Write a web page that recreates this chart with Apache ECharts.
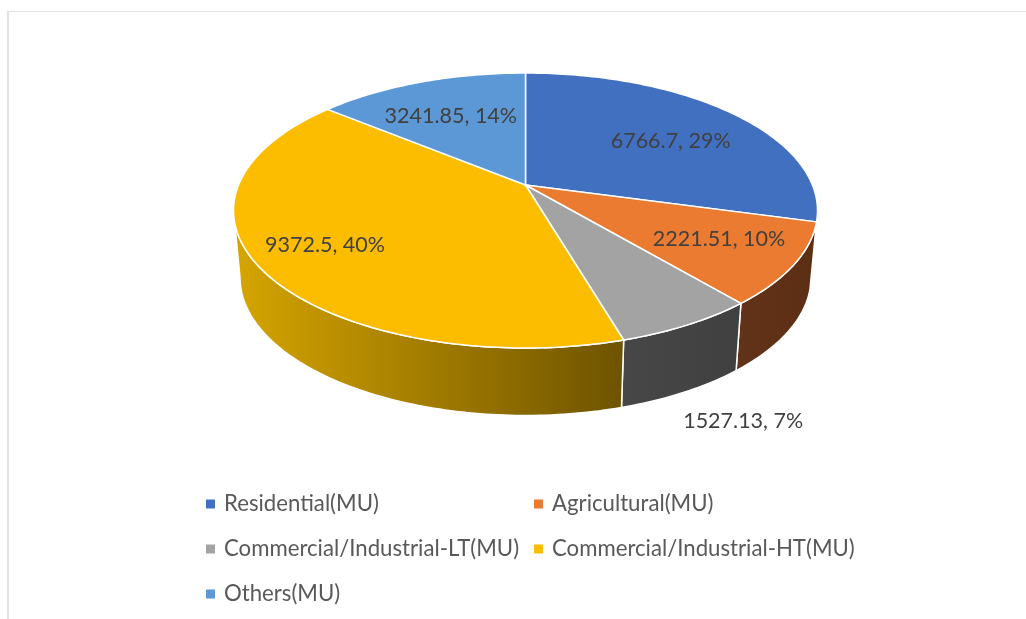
<!DOCTYPE html>
<html>
<head>
<meta charset="utf-8">
<style>
	html, body { margin: 0; padding: 0; background: #fff; }
	#pieChart { width: 1026px; height: 619px; }
</style>
<script src="https://cdn.jsdelivr.net/npm/echarts@6/dist/echarts.min.js"></script>
</head>
<body>
<div id="pieChart"></div>
<script>
// data
var categories = ['Residential(MU)', 'Agricultural(MU)', 'Commercial/Industrial-LT(MU)', 'Commercial/Industrial-HT(MU)', 'Others(MU)'];
var values = [6766.7, 2221.51, 1527.13, 9372.5, 3241.85];
var percentLabels = ['29%', '10%', '7%', '40%', '14%'];

// colours
var topColors = ['#4270c1', '#eb7b30', '#a3a3a3', '#fcbd00', '#5b98d5'];
var wallColors = [
	['#2f5597', '#2f5597'],
	['#623318', '#5c2e13'],
	['#474747', '#404040'],
	['#d6a500', '#6e5300'],
	['#3f6f9c', '#3f6f9c']
];

// layout of the tilted disc: top face, base, and how far the apex sits off the ellipse centre
var topFace = { cx: 525.5, cy: 210.5, rx: 292, ry: 137.5 };
var baseFace = { cx: 525.5, cy: 277.5, rx: 285.5, ry: 138 };
var apexShift = -0.1855;
var labelRadius = 0.65;
var labelOffset = [[7, 5], [25.5, 4], [119, 151], [-33.7, 9], [-3, 1.4]];

var total = 0;
for (var i = 0; i < values.length; i++) {
	total += values[i];
}

// the wall only shows between the two widest points of the ellipse
var wallFrom = Math.acos(apexShift);
var wallTo = Math.PI * 2 - wallFrom;

// angle (clockwise from 12 o'clock) and radius on the disc -> pixel, with perspective
function project(face, angle, r) {
	var u = r * Math.sin(angle);
	var v = -r * Math.cos(angle);
	var d = 1 + v * apexShift;
	var k = Math.sqrt(1 - apexShift * apexShift);
	return [face.cx + face.rx * u * k / d, face.cy + face.ry * (v + apexShift) / d];
}

function arcPoints(face, start, end) {
	var pts = [];
	var n = Math.max(2, Math.ceil((end - start) / (Math.PI / 180)));
	for (var j = 0; j <= n; j++) {
		pts.push(project(face, start + (end - start) * j / n, 1));
	}
	return pts;
}

function renderSlice(index, start, end) {
	var topArc = arcPoints(topFace, start, end);
	var mid = project(topFace, (start + end) / 2, labelRadius);
	var children = [];

	var a = Math.max(start, wallFrom);
	var b = Math.min(end, wallTo);
	if (b > a) {
		children.push({
			type: 'polygon',
			z2: 1,
			shape: { points: arcPoints(topFace, a, b).concat(arcPoints(baseFace, a, b).reverse()) },
			style: {
				fill: new echarts.graphic.LinearGradient(0, 0, 1, 0, [
					{ offset: 0, color: wallColors[index][0] },
					{ offset: 1, color: wallColors[index][1] }
				]),
				stroke: '#fff',
				lineWidth: 1.5
			}
		});
	}

	children.push({
		type: 'polygon',
		z2: 2,
		shape: { points: [project(topFace, 0, 0)].concat(topArc) },
		style: { fill: topColors[index], stroke: '#fff', lineWidth: 1.5, lineJoin: 'round' }
	});
	children.push({
		type: 'text',
		z2: 3,
		style: {
			text: values[index] + ', ' + percentLabels[index],
			x: mid[0] + labelOffset[index][0],
			y: mid[1] + labelOffset[index][1],
			align: 'center',
			verticalAlign: 'middle',
			fill: '#404040',
			font: '21.5px Lato'
		}
	});
	return { type: 'group', children: children };
}

var seriesList = [];
var running = 0;
for (var s = 0; s < values.length; s++) {
	(function (index, start, end) {
		seriesList.push({
			name: categories[index],
			type: 'custom',
			coordinateSystem: 'none',
			silent: true,
			animation: false,
			itemStyle: { color: topColors[index] },
			data: [values[index]],
			renderItem: function () {
				return renderSlice(index, start, end);
			}
		});
	})(s, running / total * Math.PI * 2, (running + values[s]) / total * Math.PI * 2);
	running += values[s];
}

function legendAt(left, names) {
	return {
		orient: 'vertical',
		left: left,
		top: 488,
		itemWidth: 9,
		itemHeight: 9,
		itemGap: 23,
		icon: 'rect',
		selectedMode: false,
		data: names,
		textStyle: { color: '#595959', fontSize: 22.2, lineHeight: 20, fontFamily: 'Lato', padding: [0, 0, 0, 4] }
	};
}

var pieChart = echarts.init(document.getElementById('pieChart'));

var option = {
	backgroundColor: '#fff',
	animation: false,
	legend: [
		legendAt(201, [categories[0], categories[2], categories[4]]),
		legendAt(529, [categories[1], categories[3]])
	],
	graphic: [
		{ type: 'rect', shape: { x: 7, y: 11, width: 2, height: 608 }, style: { fill: '#e2e2e2' } },
		{ type: 'rect', shape: { x: 7, y: 11, width: 1019, height: 1 }, style: { fill: '#e2e2e2' } }
	],
	series: seriesList
};

pieChart.setOption(option);
</script>
</body>
</html>
